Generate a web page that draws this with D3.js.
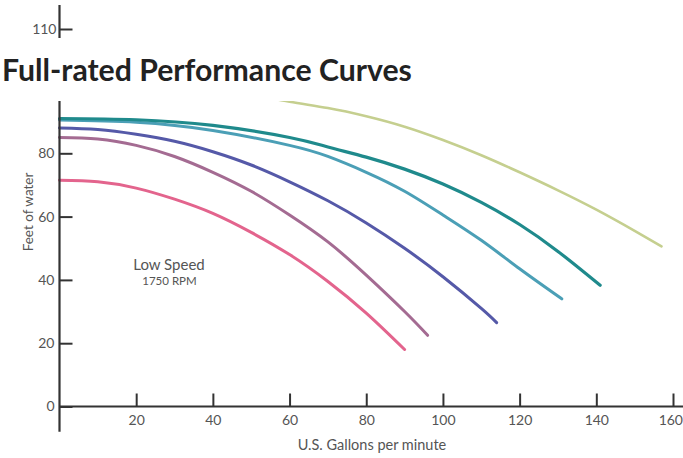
<!DOCTYPE html>
<html>
<head>
<meta charset="utf-8">
<script src="https://cdn.jsdelivr.net/npm/d3@7"></script>
<style>
  html, body { margin: 0; padding: 0; background: #fff; }
  svg { display: block; }
  text { font-family: "Lato", "Open Sans", sans-serif; }
</style>
</head>
<body>
<svg id="chart" width="683" height="458"></svg>
<script>
// ---- data ----
const title = "Full-rated Performance Curves";
const xLabel = "U.S. Gallons per minute";
const yLabel = "Feet of water";
const noteLine1 = "Low Speed";
const noteLine2 = "1750 RPM";
const xTicks = [20, 40, 60, 80, 100, 120, 140, 160];
const yTicks = [0, 20, 40, 60, 80];
const yTopTicks = [110];

// gallons per minute / feet of water for each curve
const greenGpm  = [40, 50, 60, 70, 80, 90, 100, 110, 120, 130, 140, 150, 157];
const greenFt   = [100.5, 98.6, 96.3, 94.3, 91.7, 88.4, 84.2, 79.4, 74, 68.3, 62.2, 55.5, 50.6];
const dTealGpm  = [0, 20, 40, 60, 70, 80, 90, 100, 110, 120, 130, 141];
const dTealFt   = [91, 90.6, 88.8, 85, 82, 78.8, 75, 70.3, 64.5, 57.5, 49, 38.3];
const lTealGpm  = [0, 20, 40, 60, 70, 80, 90, 100, 110, 120, 131];
const lTealFt   = [90.5, 89.8, 87.2, 82.5, 79, 74, 68, 60.5, 52.5, 43.5, 34];
const blueGpm   = [0, 10, 20, 30, 40, 50, 60, 70, 80, 90, 100, 110, 114];
const blueFt    = [88, 87.5, 86, 83.8, 80.5, 76.3, 71, 65, 58, 50, 41, 31, 26.5];
const mauveGpm  = [0, 10, 20, 30, 40, 50, 60, 70, 80, 90, 96];
const mauveFt   = [85, 84.5, 82.5, 79, 74, 68, 60.5, 52, 41.5, 30, 22.5];
const pinkGpm   = [0, 10, 20, 30, 40, 50, 60, 70, 80, 90];
const pinkFt    = [71.5, 71, 69, 65.5, 61, 55, 48, 39.5, 29.5, 18];

const series = [
  { gpm: greenGpm, ft: greenFt, color: "#c5cf8f", width: 2.6 },
  { gpm: lTealGpm, ft: lTealFt, color: "#4b9fb6", width: 3 },
  { gpm: dTealGpm, ft: dTealFt, color: "#1f8a8c", width: 3.2 },
  { gpm: blueGpm,  ft: blueFt,  color: "#5559a8", width: 3 },
  { gpm: mauveGpm, ft: mauveFt, color: "#a46b92", width: 3 },
  { gpm: pinkGpm,  ft: pinkFt,  color: "#e3648d", width: 3 }
];

// ---- layout ----
const svg = d3.select("#chart");
const x = d3.scaleLinear().domain([0, 160]).range([59.5, 673]);
const y = d3.scaleLinear().domain([0, 80]).range([406.5, 153.3]);
// the small fragment of the axis above the title has its own offset
const yTop = d3.scaleLinear().domain([100, 110]).range([60.6, 29]);
const axisColor = "#333";
const labelColor = "#555";

// curves
const line = d3.line().x(d => x(d[0])).y(d => y(d[1])).curve(d3.curveNatural);
svg.append("g").selectAll("path").data(series).join("path")
  .attr("d", s => line(s.gpm.map((g, i) => [g, s.ft[i]])))
  .attr("fill", "none")
  .attr("stroke", s => s.color)
  .attr("stroke-width", s => s.width)
  .attr("stroke-linecap", "round");

// y axis line (full height)
svg.append("line")
  .attr("x1", x(0)).attr("x2", x(0))
  .attr("y1", yTop(117.6)).attr("y2", y(-8))
  .attr("stroke", axisColor).attr("stroke-width", 2.2);

// x axis line
svg.append("line")
  .attr("x1", x(0)).attr("x2", 683)
  .attr("y1", y(0)).attr("y2", y(0))
  .attr("stroke", axisColor).attr("stroke-width", 2.2);

function styleAxis(g) {
  g.select(".domain").remove();
  g.selectAll(".tick line").attr("stroke", axisColor).attr("stroke-width", 2);
  g.selectAll(".tick text").attr("fill", labelColor)
    .style("font-family", "Lato, 'Open Sans', sans-serif").style("font-size", "14px");
}

const xg = svg.append("g")
  .attr("transform", `translate(0,${y(0)})`)
  .call(d3.axisBottom(x).tickValues(xTicks).tickFormat(d3.format("d"))
        .tickSizeInner(-13).tickSizeOuter(0).tickPadding(8.5))
  .call(styleAxis);
// keep the last label inside the picture edge
xg.selectAll(".tick text").filter(d => d === xTicks[xTicks.length - 1])
  .attr("text-anchor", "end").attr("x", 9.5);

svg.append("g")
  .attr("transform", `translate(${x(0)},0)`)
  .call(d3.axisLeft(y).tickValues(yTicks).tickFormat(d3.format("d"))
        .tickSizeInner(-13).tickSizeOuter(0).tickPadding(5))
  .call(styleAxis);

// title band (white box covering the plot top)
svg.append("rect")
  .attr("x", 0).attr("y", 38).attr("width", 683).attr("height", 63)
  .attr("fill", "#fff");

svg.append("g")
  .attr("transform", `translate(${x(0)},0)`)
  .call(d3.axisLeft(yTop).tickValues(yTopTicks).tickFormat(d3.format("d"))
        .tickSizeInner(-13).tickSizeOuter(0).tickPadding(3))
  .call(styleAxis);

const t = svg.append("text")
  .attr("x", 2).attr("y", 81)
  .attr("fill", "#222")
  .style("font-weight", 700)
  .style("font-size", "24px")
  .text(title);
const w = t.node().getComputedTextLength();
t.style("font-size", (24 * 410 / w) + "px");

// axis titles
svg.append("text")
  .attr("x", 372).attr("y", 450)
  .attr("text-anchor", "middle")
  .attr("fill", labelColor)
  .style("font-size", "14.5px")
  .text(xLabel);

svg.append("text")
  .attr("transform", "translate(32.5,212) rotate(-90)")
  .attr("text-anchor", "middle")
  .attr("fill", labelColor)
  .style("font-size", "13.5px")
  .text(yLabel);

// annotation
svg.append("text")
  .attr("x", 169).attr("y", 269.5)
  .attr("text-anchor", "middle")
  .attr("fill", labelColor)
  .style("font-size", "15px")
  .text(noteLine1);
svg.append("text")
  .attr("x", 169.5).attr("y", 285)
  .attr("text-anchor", "middle")
  .attr("fill", labelColor)
  .style("font-size", "11.5px")
  .text(noteLine2);
</script>
</body>
</html>
